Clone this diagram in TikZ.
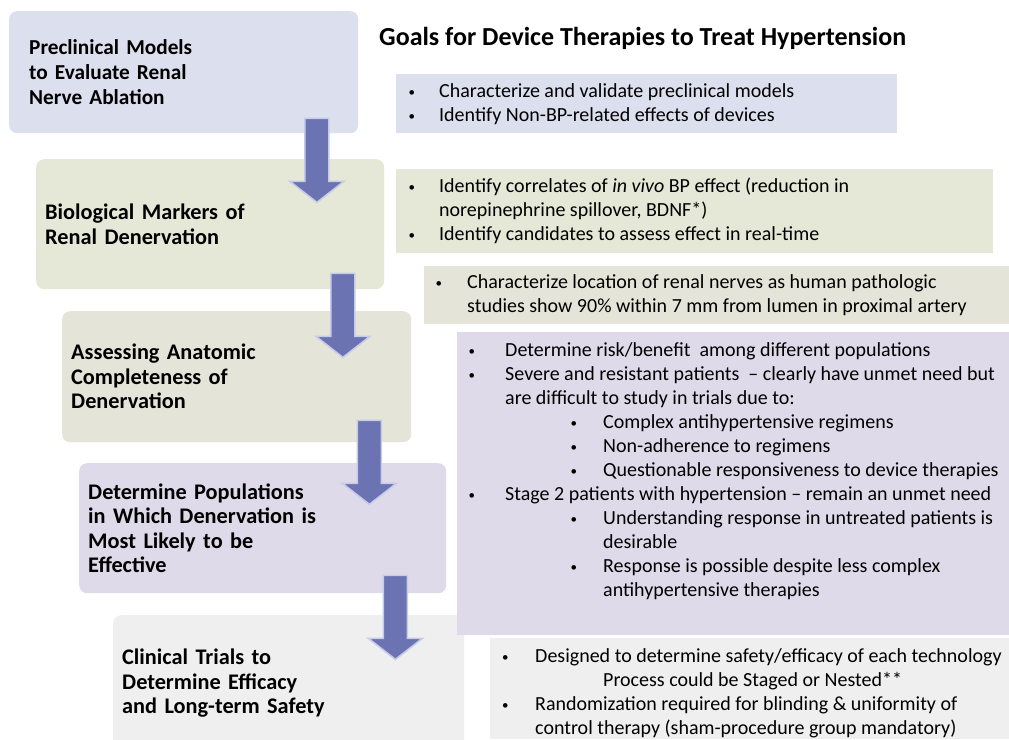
\documentclass[tikz,border=0pt]{standalone}
\usepackage{fontspec}
\setmainfont{Carlito}
\newfontfamily\stagefont{Carlito}[WordSpace=0.6]
\usepackage{xcolor}
\usepackage{tikz}
\usetikzlibrary{positioning}
\definecolor{stageblue}{HTML}{DCDFEE}
\definecolor{stagegreen}{HTML}{E6E8D7}
\definecolor{stageolive}{HTML}{E4E5D8}
\definecolor{stagepurple}{HTML}{DEDAE9}
\definecolor{stagegray}{HTML}{EFEFEF}
\definecolor{flowblue}{HTML}{6B73B3}
\definecolor{flowglow}{HTML}{C6CCE8}
\newcommand{\goaldot}{{\fontsize{13}{13}\selectfont\raisebox{1pt}{\textbullet}}}
\tikzset{
  stage/.style={rounded corners=8pt, anchor=north west, align=left, inner xsep=9pt, inner ysep=0pt, font=\stagefont\fontsize{22.3}{24.5}\selectfont\bfseries},
  goalbox/.style={anchor=north west, inner sep=0pt},
  goaltext/.style={anchor=west, inner sep=0pt, font=\fontsize{20}{24}\selectfont},
  heading/.style={anchor=west, inner sep=0pt, font=\fontsize{26}{30}\selectfont\bfseries},
  downflow/.pic={\draw[flowglow, line width=1.6pt, fill=flowblue, line join=miter] (-12,0) -- (12,0) -- (12,63) -- (27,63) -- (0,84) -- (-27,63) -- (-12,63) -- cycle;}
}

\begin{document}
\begin{tikzpicture}[x=1pt, y=-1pt]
  \fill[white] (0,0) rectangle (1009,739);
  \clip (0,0) rectangle (1009,739);

  \node[stage, fill=stageblue, minimum width=349pt, minimum height=122pt, inner xsep=20pt, text width=309pt, font=\stagefont\fontsize{21.3}{24.8}\selectfont\bfseries] (precl) at (9,11) {Preclinical Models\\to Evaluate Renal\\Nerve Ablation};
  \node[stage, fill=stagegreen, minimum width=348pt, minimum height=130pt, text width=330pt] (markers) at (36,159) {Biological Markers of\\Renal Denervation};
  \node[stage, fill=stageolive, minimum width=349pt, minimum height=131pt, text width=331pt] (anatomic) at (62,311) {Assessing Anatomic\\Completeness of\\Denervation};
  \node[stage, fill=stagepurple, minimum width=367pt, minimum height=130pt, text width=349pt] (popul) at (79,463) {Determine Populations\\in Which Denervation is\\Most Likely to be\\Effective};
  \node[stage, fill=stagegray, minimum width=351pt, minimum height=136pt, text width=333pt] (trials) at (113,615) {Clinical Trials to\\Determine Efficacy\\and Long-term Safety};

  \node[heading] (title) at (379,38) {Goals for Device Therapies to Treat Hypertension};

  \node[goalbox, fill=stageblue, minimum width=501pt, minimum height=59pt] (goalprecl) at (396,74) {};
  \node[goalbox, fill=stagegreen, minimum width=597pt, minimum height=84pt] (goalmarkers) at (396,169) {};
  \node[goalbox, fill=stageolive, minimum width=585pt, minimum height=58pt] (goalanatomic) at (424,266) {};
  \node[goalbox, fill=stagepurple, minimum width=552pt, minimum height=303pt] (goalpopul) at (457,332) {};
  \node[goalbox, fill=stagegray, minimum width=519pt, minimum height=101pt] (goaltrials) at (490,638) {};

  \pic at ([xshift=-41.5pt, yshift=15pt]precl.south east) {downflow};
  \pic at ([xshift=-41.5pt, yshift=16pt]markers.south east) {downflow};
  \pic at ([xshift=-42pt, yshift=22pt]anatomic.south east) {downflow};
  \pic at ([xshift=-51pt, yshift=18pt]popul.south east) {downflow};

  \node[goaltext] (preclitems) at (408.5,104.5) {\begin{tabular}{@{}p{30.5pt}@{}l@{}}
    \goaldot & Characterize and validate preclinical models\\
    \goaldot & Identify Non-BP-related effects of devices
  \end{tabular}};
  \node[goaltext] (markersitems) at (408.5,212) {\begin{tabular}{@{}p{30.5pt}@{}l@{}}
    \goaldot & Identify correlates of \textit{in vivo} BP effect (reduction in\\
    & norepinephrine spillover, BDNF*)\\
    \goaldot & Identify candidates to assess effect in real-time
  \end{tabular}};
  \node[goaltext] (anatomicitems) at (435.5,296) {\begin{tabular}{@{}p{31.5pt}@{}l@{}}
    \goaldot & Characterize location of renal nerves as human pathologic\\
    & studies show 90\% within 7 mm from lumen in proximal artery
  \end{tabular}};
  \node[goaltext] (populitems) at (468.5,472) {\begin{tabular}{@{}p{30.5pt}@{}p{71.5pt}@{}p{32.5pt}@{}l@{}}
    \goaldot & \multicolumn{3}{l}{Determine risk/benefit\ \ among different populations}\\
    \goaldot & \multicolumn{3}{l}{Severe and resistant patients\ \ -- clearly have unmet need but}\\
    & \multicolumn{3}{l}{are difficult to study in trials due to:}\\
    & & \goaldot & Complex antihypertensive regimens\\
    & & \goaldot & Non-adherence to regimens\\
    & & \goaldot & Questionable responsiveness to device therapies\\
    \goaldot & \multicolumn{3}{l}{Stage 2 patients with hypertension -- remain an unmet need}\\
    & & \goaldot & Understanding response in untreated patients is\\
    & & & desirable\\
    & & \goaldot & Response is possible despite less complex\\
    & & & antihypertensive therapies
  \end{tabular}};
  \node[goaltext] (trialsitems) at (502,694) {\begin{tabular}{@{}p{33pt}@{}l@{}}
    \goaldot & Designed to determine safety/efficacy of each technology\\
    & \hspace{68pt}Process could be Staged or Nested**\\
    \goaldot & Randomization required for blinding \& uniformity of\\
    & control therapy (sham-procedure group mandatory)
  \end{tabular}};
\end{tikzpicture}
\end{document}
